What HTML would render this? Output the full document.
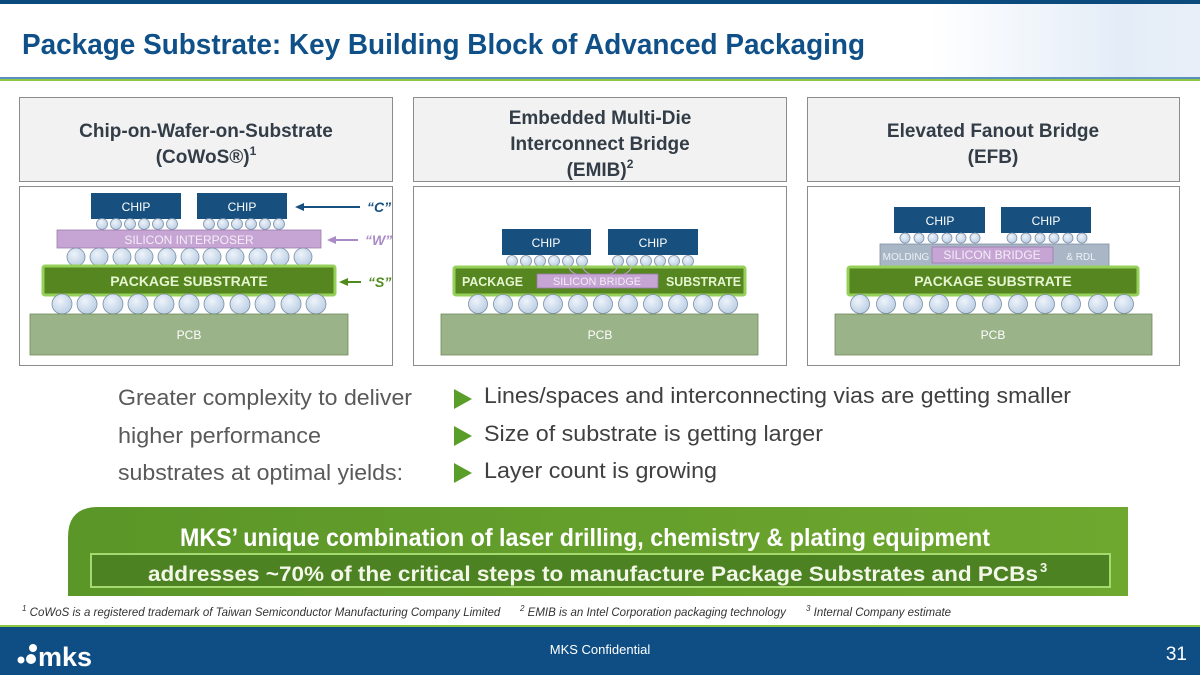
<!DOCTYPE html>
<html><head><meta charset="utf-8"><style>
html,body{margin:0;padding:0;background:#fff}
svg{display:block;font-family:"Liberation Sans",sans-serif}
</style></head><body>
<svg width="1200" height="675" viewBox="0 0 1200 675" xmlns="http://www.w3.org/2000/svg">
<defs>
<radialGradient id="bump" cx="40%" cy="35%" r="70%"><stop offset="0" stop-color="#eef3fa"/><stop offset="1" stop-color="#b9cde3"/></radialGradient>
<linearGradient id="ban" x1="0" y1="0" x2="1" y2="0"><stop offset="0" stop-color="#5a9628"/><stop offset="1" stop-color="#6fa82f"/></linearGradient>
<linearGradient id="dots" x1="0" y1="0" x2="1" y2="0"><stop offset="0" stop-color="#fff"/><stop offset="0.7" stop-color="#e4edf7"/><stop offset="1" stop-color="#e8eff8"/></linearGradient>
</defs>
<!-- header -->
<rect x="0" y="0" width="1200" height="4" fill="#0b4a7d"/>
<rect x="930" y="4" width="270" height="74" fill="url(#dots)"/>
<text x="22" y="54" font-size="29" font-weight="bold" fill="#0f5089" textLength="843" lengthAdjust="spacingAndGlyphs">Package Substrate: Key Building Block of Advanced Packaging</text>
<rect x="0" y="77" width="1200" height="2" fill="#5b8ec0"/>
<rect x="0" y="79" width="1200" height="2" fill="#8dc63f"/>

<!-- panels -->
<g stroke="#8c8c8c" stroke-width="1">
<rect x="19.5" y="97.5" width="373" height="84" fill="#f2f2f2"/>
<rect x="19.5" y="186.5" width="373" height="179" fill="#fff"/>
<rect x="413.5" y="97.5" width="373" height="84" fill="#f2f2f2"/>
<rect x="413.5" y="186.5" width="373" height="179" fill="#fff"/>
<rect x="807.5" y="97.5" width="372" height="84" fill="#f2f2f2"/>
<rect x="807.5" y="186.5" width="372" height="179" fill="#fff"/>
</g>
<g font-weight="bold" fill="#333d47" text-anchor="middle" font-size="19">
<text x="206" y="137">Chip-on-Wafer-on-Substrate</text>
<text x="206" y="163">(CoWoS®)<tspan font-size="12" dy="-8">1</tspan></text>
<text x="600" y="124">Embedded Multi-Die</text>
<text x="600" y="150">Interconnect Bridge</text>
<text x="600" y="176">(EMIB)<tspan font-size="12" dy="-8">2</tspan></text>
<text x="993" y="137">Elevated Fanout Bridge</text>
<text x="993" y="163">(EFB)</text>
</g>

<!-- Panel 1 -->
<rect x="91" y="193" width="90" height="26" fill="#17507f"/>
<rect x="197" y="193" width="90" height="26" fill="#17507f"/>
<g fill="url(#bump)" stroke="#7b8ea6" stroke-width="0.8">
<circle cx="102" cy="224" r="5.5"/><circle cx="116" cy="224" r="5.5"/><circle cx="130" cy="224" r="5.5"/><circle cx="144" cy="224" r="5.5"/><circle cx="158" cy="224" r="5.5"/><circle cx="172" cy="224" r="5.5"/>
<circle cx="209" cy="224" r="5.5"/><circle cx="223" cy="224" r="5.5"/><circle cx="237" cy="224" r="5.5"/><circle cx="251" cy="224" r="5.5"/><circle cx="265" cy="224" r="5.5"/><circle cx="279" cy="224" r="5.5"/>
</g>
<rect x="57" y="230" width="264" height="18" fill="#c6a4d3" stroke="#9b7db0" stroke-width="0.8"/>
<g fill="url(#bump)" stroke="#7b8ea6" stroke-width="0.8">
<circle cx="76" cy="257" r="9"/><circle cx="99" cy="257" r="9"/><circle cx="122" cy="257" r="9"/><circle cx="144" cy="257" r="9"/><circle cx="167" cy="257" r="9"/><circle cx="190" cy="257" r="9"/><circle cx="212" cy="257" r="9"/><circle cx="235" cy="257" r="9"/><circle cx="258" cy="257" r="9"/><circle cx="280" cy="257" r="9"/><circle cx="303" cy="257" r="9"/>
</g>
<rect x="43" y="266" width="292" height="29" rx="2" fill="#55861f" stroke="#95d05a" stroke-width="3"/>
<g fill="url(#bump)" stroke="#7b8ea6" stroke-width="0.8">
<circle cx="62" cy="304" r="10"/><circle cx="87" cy="304" r="10"/><circle cx="113" cy="304" r="10"/><circle cx="138" cy="304" r="10"/><circle cx="164" cy="304" r="10"/><circle cx="189" cy="304" r="10"/><circle cx="214" cy="304" r="10"/><circle cx="240" cy="304" r="10"/><circle cx="265" cy="304" r="10"/><circle cx="291" cy="304" r="10"/><circle cx="316" cy="304" r="10"/>
</g>
<rect x="30" y="314" width="318" height="41" fill="#9bb389" stroke="#6f8a5c" stroke-width="0.8"/>
<g font-size="12" fill="#fff" text-anchor="middle">
<text x="136" y="211">CHIP</text><text x="242" y="211">CHIP</text>
<text x="189" y="244" fill="#f4eef8">SILICON INTERPOSER</text>
<text x="189" y="339">PCB</text>
</g>
<text x="189" y="286" font-size="14" font-weight="bold" fill="#e6f5d0" text-anchor="middle">PACKAGE SUBSTRATE</text>
<!-- arrows -->
<line x1="302" y1="207" x2="360" y2="207" stroke="#17507f" stroke-width="2"/><polygon points="295,207 304,203 304,211" fill="#17507f"/>
<text x="367" y="212" font-size="14" font-weight="bold" font-style="italic" fill="#17507f">“C”</text>
<line x1="334" y1="240" x2="358" y2="240" stroke="#a98bc6" stroke-width="2"/><polygon points="327,240 336,236 336,244" fill="#a98bc6"/>
<text x="365" y="245" font-size="14" font-weight="bold" font-style="italic" fill="#a98bc6">“W”</text>
<line x1="345" y1="282" x2="361" y2="282" stroke="#4f8a1c" stroke-width="2"/><polygon points="339,282 348,278 348,286" fill="#4f8a1c"/>
<text x="368" y="287" font-size="14" font-weight="bold" font-style="italic" fill="#4f8a1c">“S”</text>

<!-- Panel 2 -->
<rect x="502" y="229" width="89" height="26" fill="#17507f"/>
<rect x="608" y="229" width="90" height="26" fill="#17507f"/>
<g fill="url(#bump)" stroke="#7b8ea6" stroke-width="0.8">
<circle cx="512" cy="261" r="5.5"/><circle cx="526" cy="261" r="5.5"/><circle cx="540" cy="261" r="5.5"/><circle cx="554" cy="261" r="5.5"/><circle cx="568" cy="261" r="5.5"/><circle cx="582" cy="261" r="5.5"/>
<circle cx="618" cy="261" r="5.5"/><circle cx="632" cy="261" r="5.5"/><circle cx="646" cy="261" r="5.5"/><circle cx="660" cy="261" r="5.5"/><circle cx="674" cy="261" r="5.5"/><circle cx="688" cy="261" r="5.5"/>
</g>
<rect x="454" y="267" width="291" height="28" rx="2" fill="#55861f" stroke="#95d05a" stroke-width="3"/>
<path d="M568 266 Q570 272 576 274 M582 266 Q584 272 590 274 M618 266 Q616 272 610 274 M632 266 Q630 272 624 274" stroke="#c6a4d3" fill="none" stroke-width="1"/>
<rect x="537" y="274" width="121" height="14" fill="#c6a4d3" stroke="#9b7db0" stroke-width="0.8"/>
<g fill="url(#bump)" stroke="#7b8ea6" stroke-width="0.8">
<circle cx="478" cy="304" r="9.5"/><circle cx="503" cy="304" r="9.5"/><circle cx="528" cy="304" r="9.5"/><circle cx="553" cy="304" r="9.5"/><circle cx="578" cy="304" r="9.5"/><circle cx="603" cy="304" r="9.5"/><circle cx="628" cy="304" r="9.5"/><circle cx="653" cy="304" r="9.5"/><circle cx="678" cy="304" r="9.5"/><circle cx="703" cy="304" r="9.5"/><circle cx="728" cy="304" r="9.5"/>
</g>
<rect x="441" y="314" width="317" height="41" fill="#9bb389" stroke="#6f8a5c" stroke-width="0.8"/>
<g font-size="12" fill="#fff" text-anchor="middle">
<text x="546" y="247">CHIP</text><text x="653" y="247">CHIP</text>
<text x="597" y="285" font-size="11" fill="#f4eef8" textLength="88" lengthAdjust="spacingAndGlyphs">SILICON BRIDGE</text>
<text x="600" y="339">PCB</text>
</g>
<text x="462" y="286" font-size="13" font-weight="bold" fill="#e6f5d0" textLength="61" lengthAdjust="spacingAndGlyphs">PACKAGE</text>
<text x="666" y="286" font-size="13" font-weight="bold" fill="#e6f5d0" textLength="75" lengthAdjust="spacingAndGlyphs">SUBSTRATE</text>

<!-- Panel 3 -->
<rect x="894" y="207" width="91" height="26" fill="#17507f"/>
<rect x="1001" y="207" width="90" height="26" fill="#17507f"/>
<g fill="url(#bump)" stroke="#7b8ea6" stroke-width="0.8">
<circle cx="905" cy="238" r="5"/><circle cx="919" cy="238" r="5"/><circle cx="933" cy="238" r="5"/><circle cx="947" cy="238" r="5"/><circle cx="961" cy="238" r="5"/><circle cx="975" cy="238" r="5"/>
<circle cx="1012" cy="238" r="5"/><circle cx="1026" cy="238" r="5"/><circle cx="1040" cy="238" r="5"/><circle cx="1054" cy="238" r="5"/><circle cx="1068" cy="238" r="5"/><circle cx="1082" cy="238" r="5"/>
</g>
<rect x="880" y="244" width="229" height="22" fill="#a8b6c6" stroke="#7f8fa3" stroke-width="0.8"/>
<rect x="932" y="247" width="121" height="16" fill="#c6a4d3" stroke="#9b7db0" stroke-width="0.8"/>
<rect x="848" y="267" width="290" height="28" rx="2" fill="#55861f" stroke="#95d05a" stroke-width="3"/>
<g fill="url(#bump)" stroke="#7b8ea6" stroke-width="0.8">
<circle cx="860" cy="304" r="9.5"/><circle cx="886" cy="304" r="9.5"/><circle cx="913" cy="304" r="9.5"/><circle cx="939" cy="304" r="9.5"/><circle cx="966" cy="304" r="9.5"/><circle cx="992" cy="304" r="9.5"/><circle cx="1018" cy="304" r="9.5"/><circle cx="1045" cy="304" r="9.5"/><circle cx="1071" cy="304" r="9.5"/><circle cx="1098" cy="304" r="9.5"/><circle cx="1124" cy="304" r="9.5"/>
</g>
<rect x="835" y="314" width="317" height="41" fill="#9bb389" stroke="#6f8a5c" stroke-width="0.8"/>
<g font-size="12" fill="#fff" text-anchor="middle">
<text x="940" y="225">CHIP</text><text x="1046" y="225">CHIP</text>
<text x="992" y="259" fill="#f4eef8">SILICON BRIDGE</text>
<text x="993" y="339">PCB</text>
</g>
<text x="906" y="260" font-size="10" fill="#eef2f6" text-anchor="middle">MOLDING</text>
<text x="1081" y="260" font-size="10" fill="#eef2f6" text-anchor="middle">&amp; RDL</text>
<text x="993" y="286" font-size="14" font-weight="bold" fill="#e6f5d0" text-anchor="middle">PACKAGE  SUBSTRATE</text>

<!-- body text -->
<g font-size="22" fill="#595959">
<text x="118" y="405" textLength="294" lengthAdjust="spacingAndGlyphs">Greater complexity to deliver</text>
<text x="118" y="443" textLength="203" lengthAdjust="spacingAndGlyphs">higher performance</text>
<text x="118" y="480" textLength="285" lengthAdjust="spacingAndGlyphs">substrates at optimal yields:</text>
</g>
<g fill="#5a9e2a">
<polygon points="454,389 454,409 472,399"/>
<polygon points="454,426 454,446 472,436"/>
<polygon points="454,463 454,483 472,473"/>
</g>
<g font-size="22" fill="#404040">
<text x="484" y="403" textLength="587" lengthAdjust="spacingAndGlyphs">Lines/spaces and interconnecting vias are getting smaller</text>
<text x="484" y="441" textLength="339" lengthAdjust="spacingAndGlyphs">Size of substrate is getting larger</text>
<text x="484" y="478" textLength="233" lengthAdjust="spacingAndGlyphs">Layer count is growing</text>
</g>

<!-- banner -->
<path d="M98 507 H1128 V596 H68 V537 Q68 507 98 507 Z" fill="url(#ban)"/>
<rect x="91" y="554" width="1019" height="33" fill="#4d8223" stroke="#a6d96e" stroke-width="2"/>
<text x="180" y="546" font-size="25" font-weight="bold" fill="#fff" textLength="810" lengthAdjust="spacingAndGlyphs">MKS’ unique combination of laser drilling, chemistry &amp; plating equipment</text>
<text x="148" y="581" font-size="21" font-weight="bold" fill="#f2f7e8" textLength="890" lengthAdjust="spacingAndGlyphs">addresses ~70% of the critical steps to manufacture Package Substrates and PCBs</text>
<text x="1040" y="572" font-size="13" font-weight="bold" fill="#f2f7e8">3</text>

<!-- footnotes -->
<g font-size="11.5" font-style="italic" fill="#333">
<text x="22" y="616"><tspan font-size="8" dy="-5">1</tspan><tspan dy="5"> CoWoS is a registered trademark of Taiwan Semiconductor Manufacturing Company Limited</tspan></text>
<text x="520" y="616"><tspan font-size="8" dy="-5">2</tspan><tspan dy="5"> EMIB is an Intel Corporation packaging technology</tspan></text>
<text x="806" y="616"><tspan font-size="8" dy="-5">3</tspan><tspan dy="5"> Internal Company estimate</tspan></text>
</g>

<!-- footer -->
<rect x="0" y="625" width="1200" height="2" fill="#8dc63f"/>
<rect x="0" y="627" width="1200" height="48" fill="#0e4e84"/>
<circle cx="21" cy="660" r="3.5" fill="#fff"/><circle cx="31" cy="659" r="5" fill="#fff"/><circle cx="33" cy="648" r="4" fill="#fff"/>
<text x="38" y="666" font-size="27" font-weight="bold" fill="#fff">mks</text>
<text x="600" y="654" font-size="13" fill="#fff" text-anchor="middle">MKS Confidential</text>
<text x="1187" y="660" font-size="19" fill="#fff" text-anchor="end">31</text>
</svg>
</body></html>
